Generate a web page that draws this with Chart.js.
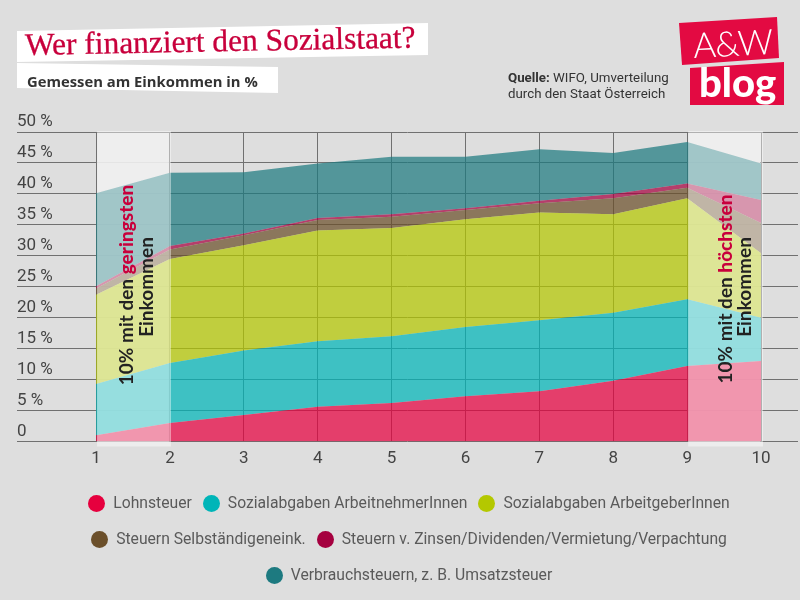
<!DOCTYPE html>
<html>
<head>
<meta charset="utf-8">
<script src="https://cdn.jsdelivr.net/npm/chart.js@4"></script>
<style>
  body { margin: 0; background: #dedede; font-family: Roboto, sans-serif; }
  #wrap { position: relative; width: 800px; height: 600px; overflow: hidden; background: #dedede; }
  #wrap div { position: absolute; }
  canvas { position: absolute; left: 0; top: 0; }
  #titleBox { left: 17px; top: 23px; width: 411px; height: 39px; background: #fff;
    clip-path: polygon(0 8px, 411px 0, 411px 32px, 0 39px); }
  #title { left: 25px; top: 27px; font: 31.4px "Liberation Serif", serif; color: #c8003c; white-space: nowrap;
    transform: rotate(-1.1deg); transform-origin: left center; -webkit-text-stroke: 0.3px #c8003c; }
  #subBox { left: 17px; top: 63px; width: 261px; height: 30px; background: #fff;
    clip-path: polygon(0 0, 261px 4px, 261px 30px, 0 25px); }
  #sub { left: 27px; top: 71px; font: bold 14.8px "Open Sans", sans-serif; color: #333; white-space: nowrap; }
  #source { left: 508px; top: 70px; font: 13.3px/16px Roboto, sans-serif; color: #333; white-space: nowrap; }
  #logoTop { left: 679px; top: 17px; width: 100px; height: 48px; background: #e30a42;
    clip-path: polygon(0 6px, 98px 0, 100px 41px, 3px 48px); }
  #logoBottom { left: 690px; top: 62px; width: 94px; height: 43px; background: #e30a42;
    clip-path: polygon(0 6px, 94px 0, 94px 43px, 0 43px); }
  #logoAw { left: 693px; top: 21px; font: 300 35px Lato, sans-serif; color: #fff; white-space: nowrap; letter-spacing: -1px;
    transform: rotate(-3deg); }
  #logoBlog { left: 699px; top: 58px; font: 900 40px Lato, sans-serif; color: #fff; white-space: nowrap; }
  .rot { width: 260px; height: 20px; line-height: 20px; text-align: center; font: bold 19px/20px Lato, sans-serif;
    color: #222; white-space: nowrap; transform: rotate(-90deg); }
  .rot b { color: #c8003c; }
  .legendRow { left: 0; width: 793px; padding-left: 7px; height: 20px; display: flex; justify-content: center; align-items: center;
    font: 15.7px/20px Roboto, sans-serif; color: #5a5a5a; }
  .legendRow span { display: inline-block; white-space: nowrap; }
  .legendRow i { display: inline-block; width: 17px; height: 17px; border-radius: 50%; margin: 0 8px 0 11px; }
</style>
</head>
<body>
<div id="wrap">
  <canvas id="sozialChart" width="800" height="600"></canvas>
  <div id="titleBox"></div>
  <div id="title">Wer finanziert den Sozialstaat?</div>
  <div id="subBox"></div>
  <div id="sub">Gemessen am Einkommen in %</div>
  <div id="source"><strong>Quelle:</strong> WIFO, Umverteilung<br>durch den Staat Österreich</div>
  <div id="logoTop"></div>
  <div id="logoBottom"></div>
  <div id="logoAw">A&amp;W</div>
  <div id="logoBlog">blog</div>
  <div class="rot" style="left:-4px;top:275px">10% mit den <b>geringsten</b></div>
  <div class="rot" style="left:16px;top:277px">Einkommen</div>
  <div class="rot" style="left:595px;top:279px">10% mit den <b>höchsten</b></div>
  <div class="rot" style="left:614px;top:277px">Einkommen</div>
  <div id="legend"></div>
</div>
<script>
// deciles on the x axis
const deciles = [1, 2, 3, 4, 5, 6, 7, 8, 9, 10];
const yTicks = [0, 5, 10, 15, 20, 25, 30, 35, 40, 45, 50];

// share of income per decile
const lohnsteuer = [1.0, 3.0, 4.3, 5.6, 6.2, 7.3, 8.1, 9.8, 12.2, 13.0];
const arbeitnehmer = [8.3, 9.7, 10.4, 10.6, 10.8, 11.2, 11.5, 11.0, 10.8, 7.0];
const arbeitgeber = [14.4, 16.8, 17.0, 17.9, 17.5, 17.4, 17.4, 15.9, 16.3, 10.4];
const selbstaendige = [1.0, 1.5, 1.6, 1.7, 1.8, 1.5, 1.5, 2.6, 1.7, 4.9];
const zinsen = [0.4, 0.6, 0.3, 0.3, 0.4, 0.3, 0.4, 0.7, 0.7, 3.7];
const verbrauch = [15.0, 11.8, 9.9, 8.8, 9.3, 8.3, 8.3, 6.6, 6.7, 5.9];

const seriesNames = [
  "Lohnsteuer",
  "Sozialabgaben ArbeitnehmerInnen",
  "Sozialabgaben ArbeitgeberInnen",
  "Steuern Selbständigeneink.",
  "Steuern v. Zinsen/Dividenden/Vermietung/Verpachtung",
  "Verbrauchsteuern, z. B. Umsatzsteuer",
];
const seriesValues = [lohnsteuer, arbeitnehmer, arbeitgeber, selbstaendige, zinsen, verbrauch];
const seriesColors = ["#e6003e", "#00b5b8", "#b4c800", "#6b4f2a", "#a5003f", "#1d7a80"];
const legendRows = [[0, 1, 2], [3, 4], [5]];
const legendTops = [493, 529, 565];

function hexToRgba(hex, alpha) {
  const n = parseInt(hex.slice(1), 16);
  return "rgba(" + (n >> 16) + "," + ((n >> 8) & 255) + "," + (n & 255) + "," + alpha + ")";
}

// light bands over the first and last decile
const bandPlugin = {
  id: "bands",
  bandRects(chart) {
    const x = chart.scales.x;
    const y = chart.scales.y;
    return {
      top: y.getPixelForValue(50),
      bottom: y.getPixelForValue(0),
      left: [x.getPixelForValue(1), x.getPixelForValue(9)],
      right: [x.getPixelForValue(2), x.getPixelForValue(10)],
    };
  },
  // hide most of the grid below the bands
  beforeDatasetsDraw(chart) {
    const r = this.bandRects(chart);
    const ctx = chart.ctx;
    ctx.save();
    ctx.fillStyle = "rgba(222,222,222,0.85)";
    for (let i = 0; i < 2; i++) {
      ctx.fillRect(r.left[i] + 1, r.top + 1, r.right[i] - r.left[i] - 2, r.bottom - r.top - 1);
    }
    ctx.restore();
  },
  afterDatasetsDraw(chart) {
    const r = this.bandRects(chart);
    const ctx = chart.ctx;
    ctx.save();
    ctx.fillStyle = "rgba(255,255,255,0.45)";
    ctx.fillRect(r.left[0] + 1, r.top - 1, r.right[0] - r.left[0], r.bottom - r.top + 6);
    ctx.fillRect(r.left[1] + 1, r.top - 1, r.right[1] - r.left[1] + 1, r.bottom - r.top + 6);
    ctx.restore();
  },
};

const ctx = document.getElementById("sozialChart").getContext("2d");
new Chart(ctx, {
  type: "line",
  data: {
    datasets: seriesValues.map((values, i) => ({
      label: seriesNames[i],
      data: values.map((v, j) => ({ x: deciles[j], y: v })),
      backgroundColor: hexToRgba(seriesColors[i], 0.72),
      borderWidth: 0,
      pointRadius: 0,
      tension: 0,
      fill: i == 0 ? "origin" : "-1",
    })),
  },
  options: {
    responsive: false,
    animation: false,
    layout: { padding: { left: 17, right: 2, top: 132, bottom: 0 } },
    plugins: {
      legend: { display: false },
      title: { display: false },
      tooltip: { enabled: false },
    },
    scales: {
      x: {
        type: "linear",
        min: -0.07,
        max: 10.5,
        afterBuildTicks: (scale) => { scale.ticks = deciles.map((v) => ({ value: v })); },
        afterFit: (scale) => { scale.height = 158.5; },
        border: { display: false },
        grid: { color: "#707070", lineWidth: 1, drawTicks: false },
        ticks: {
          padding: 7,
          maxRotation: 0,
          autoSkip: false,
          color: "#444",
          font: { family: "Roboto", size: 17 },
        },
      },
      y: {
        stacked: true,
        min: 0,
        max: 50,
        afterBuildTicks: (scale) => { scale.ticks = yTicks.map((v) => ({ value: v })); },
        afterFit: (scale) => { scale.width = 0; },
        border: { display: false },
        grid: { color: "#707070", lineWidth: 1, drawTicks: false },
        ticks: {
          mirror: true,
          padding: 0,
          labelOffset: -10,
          color: "#444",
          font: { family: "Roboto", size: 17 },
          callback: (v) => (v == 0 ? "0" : v + " %"),
        },
      },
    },
  },
  plugins: [bandPlugin],
});

// legend rows below the chart
const legend = document.getElementById("legend");
legendRows.forEach((row, r) => {
  const el = document.createElement("div");
  el.className = "legendRow";
  el.style.top = legendTops[r] + "px";
  row.forEach((i) => {
    const dot = document.createElement("i");
    dot.style.background = seriesColors[i];
    const label = document.createElement("span");
    label.textContent = seriesNames[i];
    el.appendChild(dot);
    el.appendChild(label);
  });
  legend.appendChild(el);
});
</script>
</body>
</html>
